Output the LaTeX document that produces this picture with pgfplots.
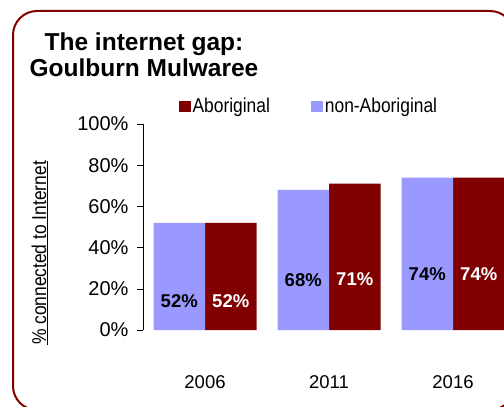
\documentclass[border=0pt]{standalone}
\usepackage{pgfplots}
\pgfplotsset{compat=1.18}
\usepackage{fontspec}
\setmainfont{Liberation Sans}
\definecolor{abor}{RGB}{128,0,0}
\definecolor{nonab}{RGB}{153,153,255}
\definecolor{frame}{RGB}{128,0,0}
% condensed look of the original's legend and axis title
\newcommand{\narrow}[1]{\scalebox{0.87}[1]{#1}}

\begin{document}
\begin{tikzpicture}[x=1bp,y=1bp]
  \path[use as bounding box] (0,0) rectangle (504,406);
  \clip (0,0) rectangle (504,406);
  \draw[frame, line width=2bp, rounded corners=24bp] (13,-4) rectangle (514,395);
  \node[align=center, font=\fontsize{24.5bp}{26bp}\selectfont\bfseries, anchor=base]
    at (144,330) {The internet gap:\\Goulburn Mulwaree};
  \node[rotate=90, font=\fontsize{20bp}{22bp}\selectfont, anchor=base]
    at (46,153) {\underline{\narrow{\% connected to Internet}}};

  \begin{axis}[
      at={(143bp,76bp)}, anchor=south west,
      scale only axis, width=372bp, height=206bp,
      xmin=-0.5, xmax=2.5, ymin=0, ymax=100,
      axis lines*=left,
      axis line style={-, black},
      x axis line style={draw=none},
      xtick={0,1,2}, xticklabels={2006,2011,2016},
      xtick style={draw=none},
      ytick={0,20,...,100},
      yticklabel={\pgfmathprintnumber{\tick}\%},
      tick align=outside,
      major tick length=6bp,
      ytick style={black, line width=0.6bp},
      ticklabel style={font=\fontsize{20bp}{22bp}\selectfont},
      xticklabel style={font=\fontsize{18.5bp}{20bp}\selectfont, yshift=-36bp},
      yticklabel style={xshift=-5bp},
      /pgf/number format/assume math mode=true,
      ybar, bar width=51.5bp,
      clip=false,
      legend columns=2,
      legend style={at={(axis description cs:0.087,1.087)}, anchor=west, draw=none,
        fill=none, font=\fontsize{20bp}{22bp}\selectfont,
        /tikz/every even column/.append style={column sep=39bp}},
      legend image code/.code={\fill[#1] (0bp,-5.5bp) rectangle (12bp,5.5bp);},
    ]
    \addplot[fill=abor, draw=none, bar shift=25.75bp] coordinates {(0,52) (1,71) (2,74)};
    \addlegendentry{\narrow{Aboriginal}}
    \addplot[fill=nonab, draw=none, bar shift=-25.75bp] coordinates {(0,52) (1,68) (2,74)};
    \addlegendentry{\narrow{non-Aboriginal}}

    \begin{scope}[every node/.style={font=\fontsize{18.5bp}{20bp}\selectfont\bfseries}]
      \node[black, xshift=-25.75bp] at (axis cs:0,14.2) {52\%};
      \node[white, xshift=25.75bp] at (axis cs:0,14.2) {52\%};
      \node[black, xshift=-25.75bp] at (axis cs:1,24.0) {68\%};
      \node[white, xshift=25.75bp] at (axis cs:1,24.9) {71\%};
      \node[black, xshift=-25.75bp] at (axis cs:2,26.9) {74\%};
      \node[white, xshift=25.75bp] at (axis cs:2,26.9) {74\%};
    \end{scope}
  \end{axis}
\end{tikzpicture}
\end{document}
